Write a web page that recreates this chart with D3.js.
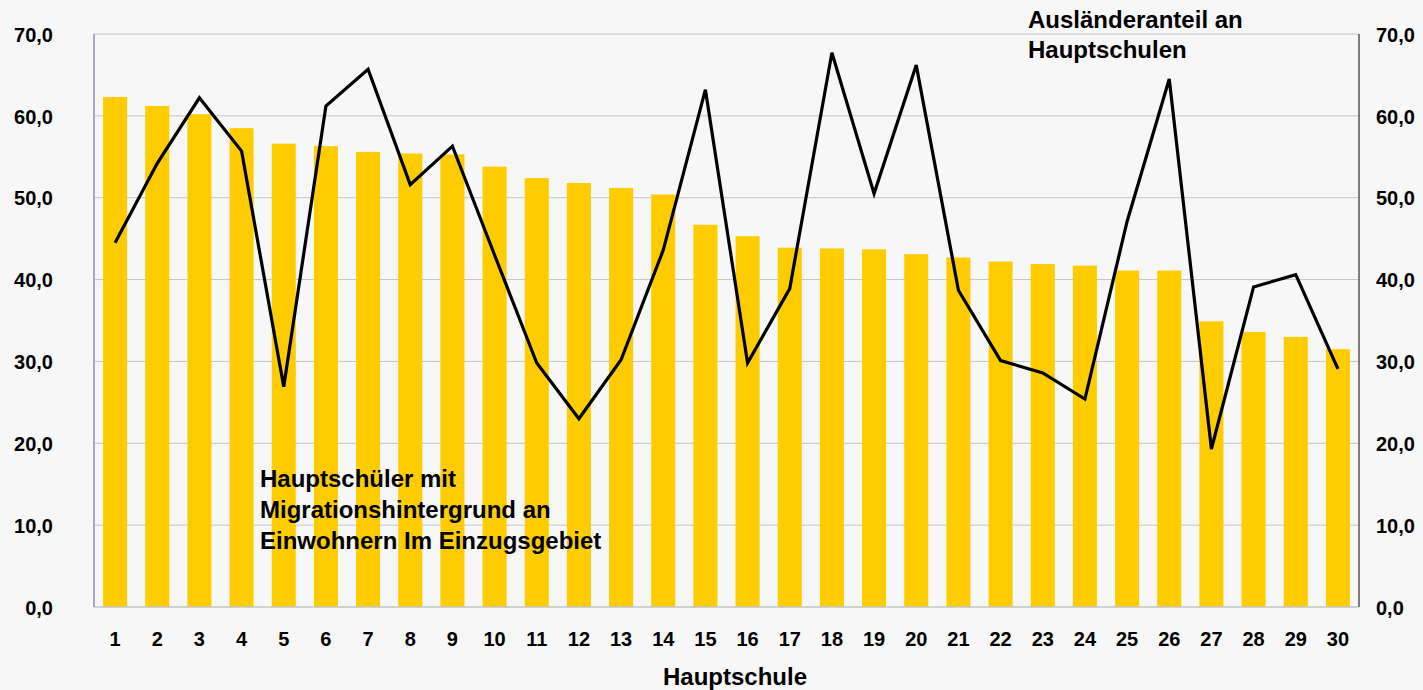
<!DOCTYPE html>
<html>
<head>
<meta charset="utf-8">
<script src="https://cdn.jsdelivr.net/npm/d3@7"></script>
<style>
  body { margin: 0; background: #f7f7f7; }
  svg text { font-family: Arial, "Liberation Sans", sans-serif; font-weight: bold; fill: #000; }
</style>
</head>
<body>
<svg id="chart" width="1423" height="690"></svg>
<script>
// schools 1..30
const schools = d3.range(1, 31)

// Hauptschüler mit Migrationshintergrund an Einwohnern (left axis, bars)
const migration = [62.3, 61.2, 60.2, 58.5, 56.6, 56.3, 55.6, 55.4, 55.3, 53.8,
    52.4, 51.8, 51.2, 50.4, 46.7, 45.3, 43.9, 43.8, 43.7, 43.1,
    42.7, 42.2, 41.9, 41.7, 41.1, 41.1, 34.9, 33.6, 33.0, 31.5]

// Ausländeranteil an Hauptschulen (right axis, line)
const auslaender = [44.5, 54.2, 62.2, 55.7, 26.9, 61.2, 65.7, 51.6, 56.3, 43.0,
    29.8, 23.0, 30.2, 43.6, 63.2, 29.8, 38.9, 67.7, 50.5, 66.2,
    38.7, 30.1, 28.6, 25.4, 47.1, 64.5, 19.3, 39.1, 40.6, 29.1]

const yTicks = [0, 10, 20, 30, 40, 50, 60, 70]

const margin = {top: 34, right: 64, bottom: 83, left: 94}
const width = 1423 - margin.left - margin.right,
    height = 690 - margin.top - margin.bottom

const svg = d3.select("#chart")
const g = svg.append("g").attr("transform", `translate(${margin.left},${margin.top})`)

const x = d3.scaleBand()
    .domain(schools)
    .range([0, width])
    .paddingInner(0.43)
    .paddingOuter(0.215)

const yL = d3.scaleLinear().domain([0, 70]).range([height, 0])
const yR = d3.scaleLinear().domain([0, 70]).range([height, 0])

const fmt = d => d3.format(".1f")(d).replace(".", ",")

// gridlines
g.append("g")
    .selectAll("line")
    .data(yTicks.filter(d => d > 0))
    .join("line")
    .attr("x1", 0).attr("x2", width)
    .attr("y1", d => yL(d)).attr("y2", d => yL(d))
    .attr("stroke", "#c4c4c4")
    .attr("stroke-width", 1)

// bars
g.append("g")
    .selectAll("rect")
    .data(migration)
    .join("rect")
    .attr("x", (d, i) => x(schools[i]))
    .attr("y", d => yL(d))
    .attr("width", x.bandwidth())
    .attr("height", d => height - yL(d))
    .attr("fill", "#ffcc00")

// axes lines
g.append("line").attr("x1", 0).attr("x2", width).attr("y1", height).attr("y2", height)
    .attr("stroke", "#c4c4c4").attr("stroke-width", 1.5)
g.append("line").attr("x1", 0).attr("x2", 0).attr("y1", 0).attr("y2", height)
    .attr("stroke", "#a8a8cc").attr("stroke-width", 2)
g.append("line").attr("x1", width).attr("x2", width).attr("y1", 0).attr("y2", height)
    .attr("stroke", "#555").attr("stroke-width", 1.5)

// line
const line = d3.line()
    .x((d, i) => x(schools[i]) + x.bandwidth() / 2)
    .y(d => yR(d))

g.append("path")
    .datum(auslaender)
    .attr("fill", "none")
    .attr("stroke", "#000")
    .attr("stroke-width", 3.2)
    .attr("stroke-linejoin", "miter")
    .attr("d", line)

// left axis labels
const leftAxis = d3.axisLeft(yL).tickValues(yTicks).tickFormat(fmt).tickSize(0).tickPadding(41)
const la = g.append("g").call(leftAxis)
la.select(".domain").remove()
la.selectAll("text").attr("font-size", 20).attr("dy", "0.36em")

// right axis labels
const rightAxis = d3.axisRight(yR).tickValues(yTicks).tickFormat(fmt).tickSize(0).tickPadding(17)
const ra = g.append("g").attr("transform", `translate(${width},0)`).call(rightAxis)
ra.select(".domain").remove()
ra.selectAll("text").attr("font-size", 20).attr("dy", "0.36em")

// x axis labels
const xa = g.append("g").attr("transform", `translate(0,${height})`)
    .call(d3.axisBottom(x).tickSize(0).tickPadding(25))
xa.select(".domain").remove()
xa.selectAll("text").attr("font-size", 20)

// axis title
svg.append("text")
    .attr("x", 735).attr("y", 685)
    .attr("text-anchor", "middle")
    .attr("font-size", 24)
    .text("Hauptschule")

// annotations
const note1 = ["Hauptschüler mit", "Migrationshintergrund an", "Einwohnern Im Einzugsgebiet"]
svg.append("g").selectAll("text")
    .data(note1)
    .join("text")
    .attr("x", 260)
    .attr("y", (d, i) => 487 + i * 31)
    .attr("font-size", 24)
    .text(d => d)

const note2 = ["Ausländeranteil an", "Hauptschulen"]
svg.append("g").selectAll("text")
    .data(note2)
    .join("text")
    .attr("x", 1028)
    .attr("y", (d, i) => 28 + i * 30)
    .attr("font-size", 24)
    .text(d => d)
</script>
</body>
</html>
